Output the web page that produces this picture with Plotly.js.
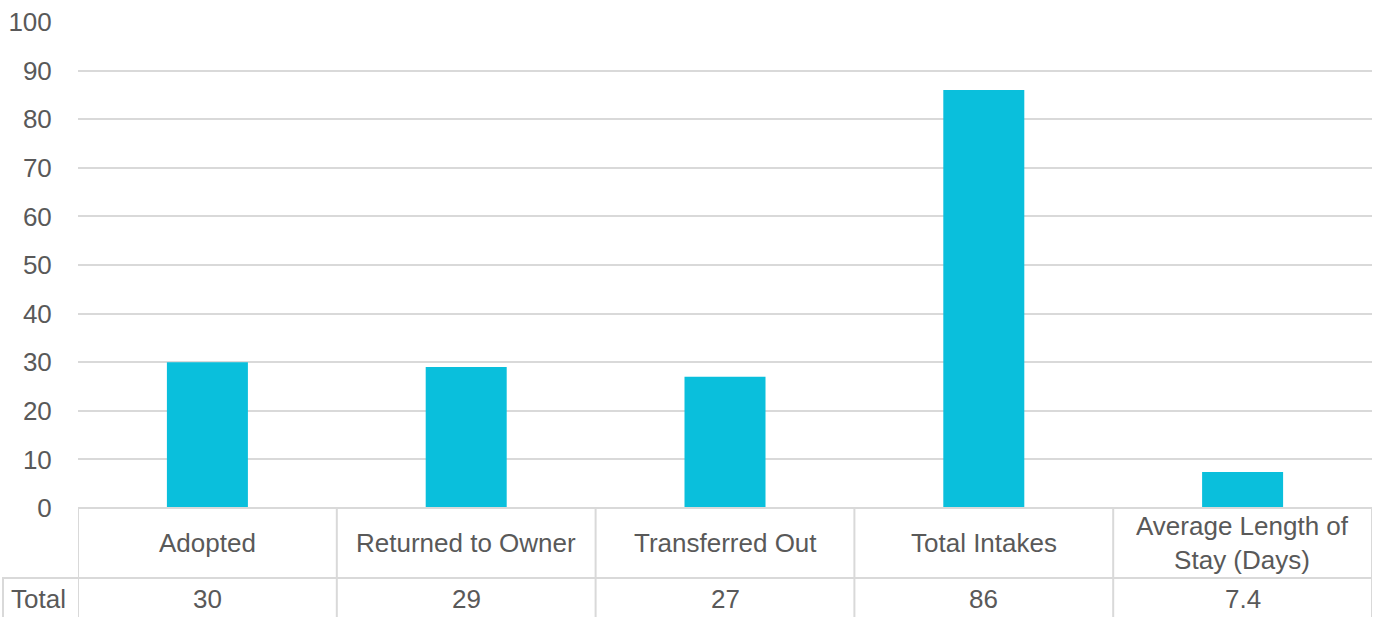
<!DOCTYPE html>
<html>
<head>
<meta charset="utf-8">
<script src="https://cdn.plot.ly/plotly-3.0.1.min.js"></script>
<style>html,body{margin:0;padding:0;background:#fff;}#chart{width:1375px;height:617px;}</style>
</head>
<body>
<div id="chart"></div>
<script>
const categories = ["Adopted", "Returned to Owner", "Transferred Out", "Total Intakes", "Average Length of Stay (Days)"];
const categoryLabels = ["Adopted", "Returned to Owner", "Transferred Out", "Total Intakes", "Average Length of<br>Stay (Days)"];
const totals = [30, 29, 27, 86, 7.4];
const totalLabels = ["30", "29", "27", "86", "7.4"];
const rowLabel = "Total";

const lineColor = "#d9d9d9";
const textColor = "#595959";
const font = "Liberation Sans, Arial, sans-serif";
const fs = 26;

const plotTop = 22, plotBottom = 508, H = 617;
const ph = plotBottom - plotTop;
const py = p => (plotBottom - p) / ph;

const shapes = [];
const ann = [];
const n = categories.length;
for (let i = 0; i <= n; i++) {
  shapes.push({type:'line', xref:'x', yref:'paper', x0:i-0.5, x1:i-0.5, y0:py(plotBottom), y1:py(H+5), line:{color:lineColor, width:2}});
}
shapes.push({type:'line', xref:'x', yref:'paper', x0:-0.5, x1:n-0.5, y0:0, y1:0, line:{color:lineColor, width:2}});
shapes.push({type:'line', xref:'paper', yref:'paper', x0:(2-78)/1294, x1:1, y0:py(578), y1:py(578), line:{color:lineColor, width:2}});
shapes.push({type:'line', xref:'paper', yref:'paper', x0:(3-78)/1294, x1:(3-78)/1294, y0:py(578), y1:py(H+5), line:{color:lineColor, width:2}});

categories.forEach((c, i) => {
  ann.push({xref:'x', yref:'paper', x:i, y:py(543), text:categoryLabels[i], showarrow:false, font:{family:font, size:fs, color:textColor}, xanchor:'center', yanchor:'middle'});
  ann.push({xref:'x', yref:'paper', x:i, y:py(599), text:totalLabels[i], showarrow:false, font:{family:font, size:fs, color:textColor}, xanchor:'center', yanchor:'middle'});
});
ann.push({xref:'paper', yref:'paper', x:(38-78)/1294, y:py(599), text:rowLabel, showarrow:false, font:{family:font, size:fs, color:textColor}, xanchor:'center', yanchor:'middle'});

const data = [{
  type:'bar', x:categories, y:totals, marker:{color:'#0ABFDC'}, hoverinfo:'x+y'
}];

const layout = {
  width:1375, height:617,
  margin:{l:78, r:3, t:plotTop, b:H-plotBottom, pad:0},
  paper_bgcolor:'#fff', plot_bgcolor:'#fff',
  showlegend:false,
  bargap:0.687,
  xaxis:{type:'category', showticklabels:false, showgrid:false, zeroline:false, showline:false, ticks:'', range:[-0.5, n-0.5], fixedrange:true},
  yaxis:{range:[0,100], dtick:10, tick0:0, showgrid:true, gridcolor:lineColor, gridwidth:2, zeroline:false, showline:false,
         ticks:'outside', ticklen:20, tickcolor:'rgba(0,0,0,0)', tickfont:{family:font, size:fs, color:textColor}, fixedrange:true},
  shapes:shapes,
  annotations:ann
};

Plotly.newPlot('chart', data, layout, {displayModeBar:false, staticPlot:true});
</script>
</body>
</html>
